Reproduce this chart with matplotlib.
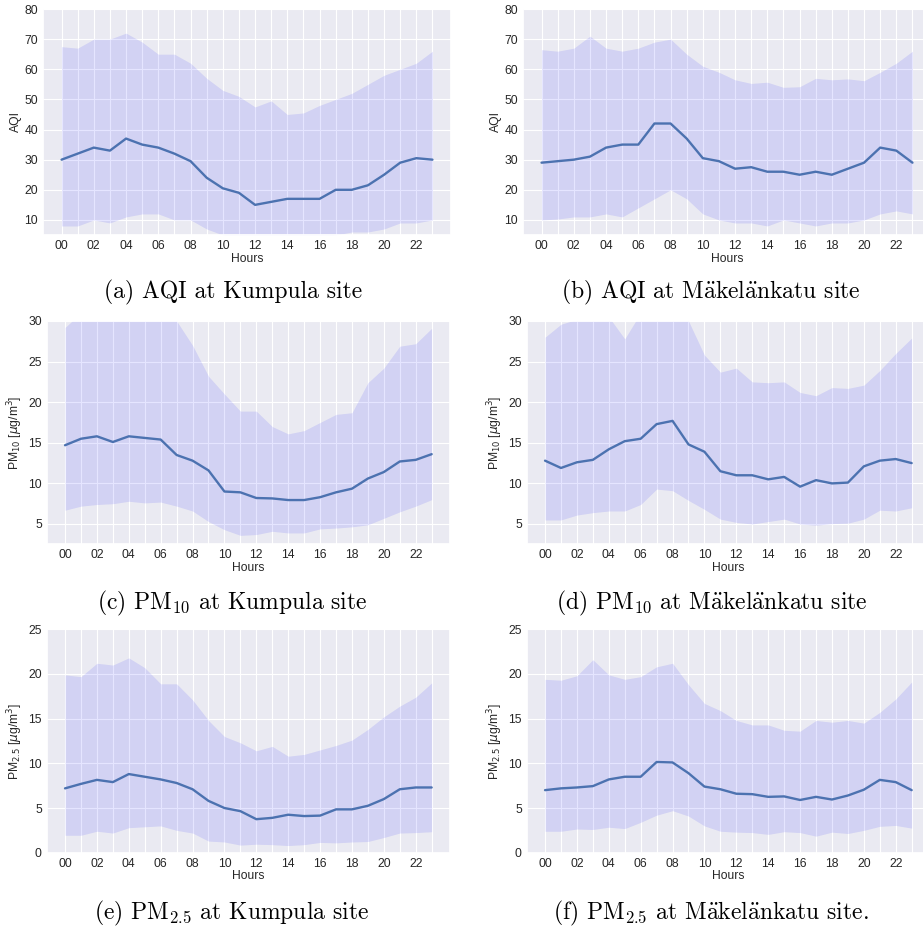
import numpy as np
import matplotlib
matplotlib.use("Agg")
import matplotlib.pyplot as plt
import seaborn as sns

hours = np.arange(24)
hour_labels = ["%02d" % h if h % 2 == 0 else "" for h in hours]

# AQI, Kumpula
aqi_k_mean = [30, 32, 34, 33, 37, 35, 34, 32, 29.5, 24, 20.5, 19, 15, 16, 17, 17,
              17, 20, 20, 21.5, 25, 29, 30.5, 30]
aqi_k_up = [67.5, 67, 70, 70, 72, 69, 65, 65, 62, 57, 53, 51, 47.5, 49.5, 45, 45.5,
            48, 50, 52, 55, 58, 60, 62, 66]
aqi_k_lo = [8, 8, 10, 9, 11, 12, 12, 10, 10, 7, 5, 4, 3, 3, 3, 3,
            4, 5, 6, 6, 7, 9, 9, 10]

# AQI, Makelankatu
aqi_m_mean = [29, 29.5, 30, 31, 34, 35, 35, 42, 42, 37, 30.5, 29.5, 27, 27.5, 26, 26,
              25, 26, 25, 27, 29, 34, 33, 29]
aqi_m_up = [66.5, 66, 67, 71, 67, 66, 67, 69, 70, 65, 61, 59, 56.5, 55.3, 55.7, 54,
            54.2, 57, 56.5, 56.8, 56.2, 59, 62, 66]
aqi_m_lo = [10, 10.3, 11, 11, 12, 11, 14, 17, 20, 17, 12, 10, 9, 9, 8, 10,
            9, 8, 9, 9, 10, 12, 13, 12]

# PM10, Kumpula
pm10_k_mean = [14.7, 15.5, 15.8, 15.1, 15.8, 15.6, 15.4, 13.5, 12.8, 11.6, 9.0, 8.9,
               8.2, 8.15, 7.95, 7.95, 8.3, 8.9, 9.35, 10.6, 11.4, 12.7, 12.9, 13.6]
pm10_k_up = [29.2, 31, 32, 33, 33, 32, 31.5, 30, 27, 23.2, 21, 18.9,
             18.9, 17, 16.1, 16.5, 17.5, 18.5, 18.7, 22.4, 24.2, 26.9, 27.2, 29.1]
pm10_k_lo = [6.7, 7.2, 7.4, 7.5, 7.8, 7.6, 7.7, 7.2, 6.6, 5.3, 4.3, 3.6,
             3.7, 4.1, 3.9, 3.9, 4.4, 4.5, 4.65, 4.9, 5.7, 6.5, 7.2, 8.0]

# PM10, Makelankatu
pm10_m_mean = [12.8, 11.9, 12.6, 12.9, 14.2, 15.2, 15.5, 17.3, 17.7, 14.8, 13.9, 11.5,
               11.0, 11.0, 10.5, 10.8, 9.6, 10.4, 10.0, 10.1, 12.1, 12.8, 13.0, 12.5]
pm10_m_up = [28.0, 29.6, 30.2, 31, 30.5, 27.8, 31, 32, 32, 30, 25.8, 23.7,
             24.2, 22.5, 22.4, 22.5, 21.2, 20.8, 21.8, 21.7, 22.1, 23.9, 26.0, 27.9]
pm10_m_lo = [5.5, 5.5, 6.1, 6.4, 6.6, 6.6, 7.4, 9.3, 9.1, 7.9, 6.8, 5.6,
             5.2, 5.0, 5.3, 5.6, 5.0, 4.85, 5.05, 5.1, 5.6, 6.7, 6.6, 7.0]

# PM2.5, Kumpula
pm25_k_mean = [7.2, 7.7, 8.15, 7.9, 8.8, 8.5, 8.2, 7.8, 7.1, 5.8, 5.0, 4.65,
               3.75, 3.9, 4.25, 4.1, 4.15, 4.85, 4.85, 5.25, 6.0, 7.1, 7.3, 7.3]
pm25_k_up = [19.9, 19.7, 21.2, 21.0, 21.8, 20.7, 18.9, 18.9, 17.1, 14.8, 13.0, 12.3,
             11.4, 11.9, 10.8, 11.0, 11.5, 12.0, 12.6, 13.8, 15.2, 16.4, 17.4, 19.0]
pm25_k_lo = [1.95, 1.95, 2.4, 2.2, 2.8, 2.9, 3.0, 2.5, 2.2, 1.3, 1.2, 0.85,
             0.95, 0.9, 0.8, 0.9, 1.15, 1.1, 1.2, 1.25, 1.7, 2.2, 2.25, 2.35]

# PM2.5, Makelankatu
pm25_m_mean = [7.0, 7.2, 7.3, 7.45, 8.2, 8.5, 8.5, 10.15, 10.1, 8.9, 7.4, 7.1,
               6.6, 6.55, 6.25, 6.3, 5.9, 6.25, 5.95, 6.4, 7.05, 8.15, 7.9, 7.0]
pm25_m_up = [19.4, 19.3, 19.8, 21.6, 19.9, 19.4, 19.7, 20.8, 21.2, 18.8, 16.7, 15.9,
             14.8, 14.3, 14.3, 13.7, 13.6, 14.8, 14.6, 14.8, 14.5, 15.7, 17.2, 19.1]
pm25_m_lo = [2.4, 2.4, 2.65, 2.6, 2.85, 2.7, 3.4, 4.2, 4.7, 4.1, 3.0, 2.4,
             2.3, 2.25, 2.05, 2.35, 2.25, 1.85, 2.3, 2.15, 2.5, 2.95, 3.05, 2.75]

sns.set_theme(style="darkgrid")
plt.rcParams['font.family'] = ['Liberation Sans', 'DejaVu Sans']

W, H = 923, 931
fig = plt.figure(figsize=(W / 100, H / 100), dpi=100)
fig.patch.set_facecolor("white")

aqi_label = "AQI"
pm10_label = r"PM$_{10}$ [$\mu$g/m$^3$]"
pm25_label = r"PM$_{2.5}$ [$\mu$g/m$^3$]"
mak = r"M$\ddot{\rm a}$kel$\ddot{\rm a}$nkatu"

panels = [
    # left, top, width, height (px), data, ylim, yticks, ylabel, caption, caption x, y
    (43, 9, 408, 226, aqi_k_mean, aqi_k_lo, aqi_k_up, (5, 80), range(10, 81, 10), aqi_label,
     "(a) AQI at Kumpula site", 233, 292),
    (523, 9, 408, 226, aqi_m_mean, aqi_m_lo, aqi_m_up, (5, 80), range(10, 81, 10), aqi_label,
     "(b) AQI at " + mak + " site", 711, 292),
    (46.7, 321, 403.3, 223.3, pm10_k_mean, pm10_k_lo, pm10_k_up, (2.5, 30), range(5, 31, 5), pm10_label,
     r"(c) PM$_{10}$ at Kumpula site", 232, 603),
    (526.7, 321, 403.3, 223.3, pm10_m_mean, pm10_m_lo, pm10_m_up, (2.5, 30), range(5, 31, 5), pm10_label,
     r"(d) PM$_{10}$ at " + mak + " site", 712, 603),
    (46.7, 629.3, 403.3, 223.4, pm25_k_mean, pm25_k_lo, pm25_k_up, (0, 25), range(0, 26, 5), pm25_label,
     r"(e) PM$_{2.5}$ at Kumpula site", 232, 913),
    (526.7, 629.3, 403.3, 223.4, pm25_m_mean, pm25_m_lo, pm25_m_up, (0, 25), range(0, 26, 5), pm25_label,
     r"(f) PM$_{2.5}$ at " + mak + " site.", 711, 913),
]

for (l, t, w, h, mean, lo, up, ylim, yticks, ylab, cap, cx, cy) in panels:
    ax = fig.add_axes([l / W, 1 - (t + h) / H, w / W, h / H])
    ax.fill_between(hours, lo, up, color="blue", alpha=0.1, linewidth=0)
    ax.plot(hours, mean, color="#4c72b0", linewidth=1.7)
    ax.set_xlim(-1.15, 24.15)
    ax.set_ylim(*ylim)
    ax.set_xticks(hours)
    ax.set_xticklabels(hour_labels)
    ax.set_yticks(list(yticks))
    ax.tick_params(labelsize=8.7, length=0, pad=3.5, colors=".15")
    ax.grid(True, color="white", linewidth=0.8)
    ax.set_xlabel("Hours", fontsize=8.7, labelpad=0.5, color=".15")
    ax.set_ylabel(ylab, fontsize=8.7, labelpad=2, color=".15")
    fig.text(cx / W, 1 - cy / H, cap, ha="center", va="center", fontsize=17,
             family=["cmr10", "DejaVu Serif"], math_fontfamily="cm", color="black")

fig.savefig("out.png", dpi=100, facecolor="white")
